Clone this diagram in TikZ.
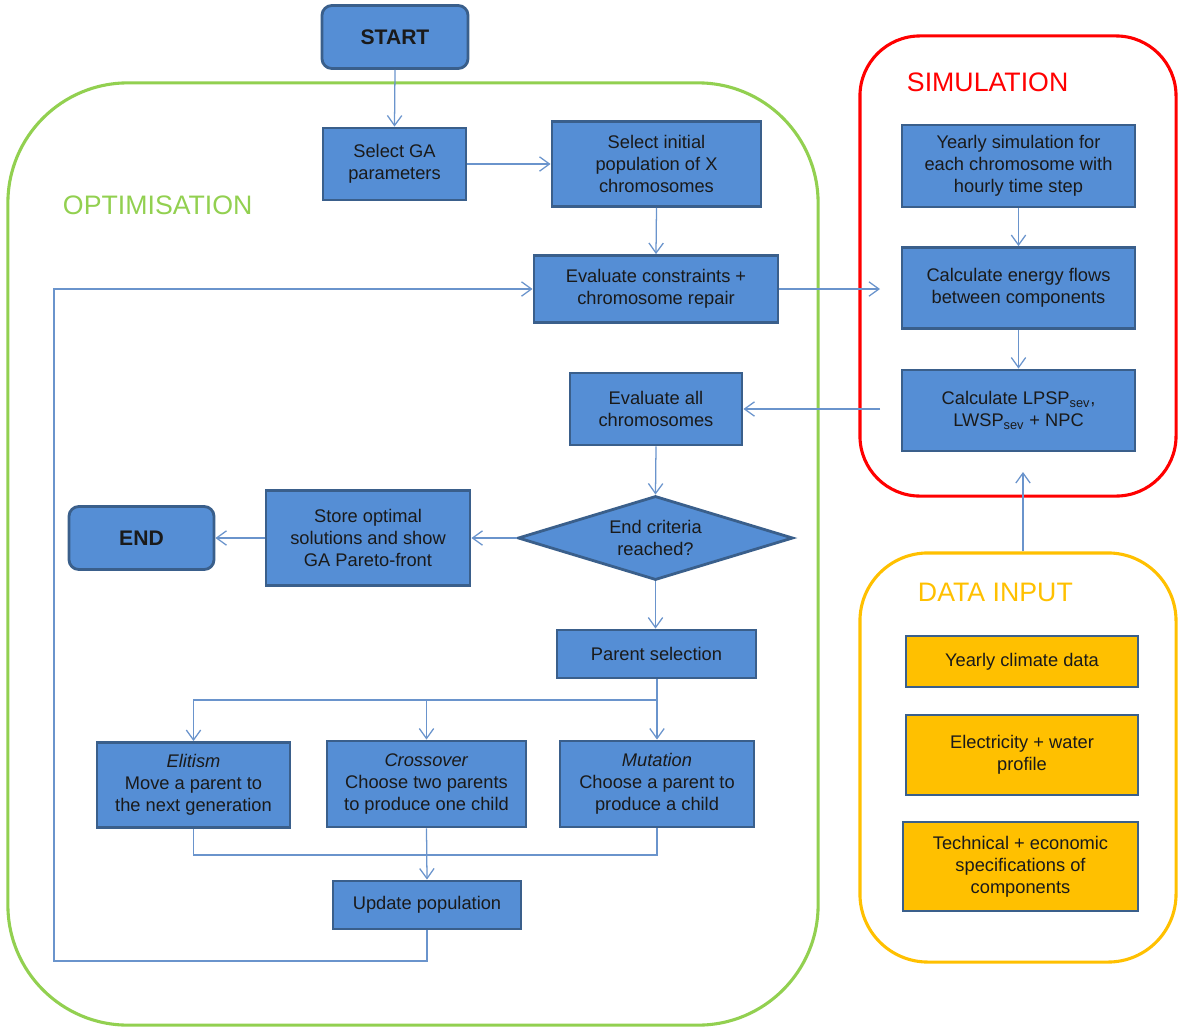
\documentclass[tikz,border=0pt]{standalone}
\usepackage{fontspec}
\setmainfont{Liberation Sans}
\usetikzlibrary{arrows.meta,shapes.geometric}
\definecolor{boxfill}  {HTML}{558ED5}
\definecolor{boxline}  {HTML}{3A5F8B}
\definecolor{flowline} {HTML}{6A94CC}
\definecolor{optgreen} {HTML}{92D050}
\definecolor{simred}   {HTML}{FF0000}
\definecolor{datagold} {HTML}{FFC000}
\definecolor{ink}      {HTML}{1A1A1A}

\begin{document}
\begin{tikzpicture}[x=0.025cm,y=-0.025cm,
    procbox/.style={draw=boxline,line width=2pt,fill=boxfill,text=ink,
                    align=center,inner sep=2pt,
                    font=\fontsize{13}{15.5}\selectfont},
    termbox/.style={procbox,rounded corners=7pt,
                    font=\fontsize{15}{18}\selectfont\bfseries},
    inbox/.style={procbox,fill=datagold},
    group/.style={line width=2.2pt,fill=none},
    grouptitle/.style={anchor=west,font=\fontsize{19}{23}\selectfont},
    link/.style={draw=flowline,line width=0.9pt},
    flow/.style={link,-{Straight Barb[length=2.5mm,width=3.6mm]}}]
  \useasboundingbox (0,0) rectangle (1180,1028);

  % group frames
  \node[group,draw=optgreen,rounded corners=3cm,
        minimum width=20.25cm,minimum height=23.55cm] (optbox) at (413,554) {};
  \node[group,draw=simred,rounded corners=1.5cm,
        minimum width=7.9cm,minimum height=11.5cm] (simbox) at (1018,266) {};
  \node[group,draw=datagold,rounded corners=1.7cm,
        minimum width=7.9cm,minimum height=10.225cm] (databox) at (1018,757.5) {};

  \node[grouptitle,text=optgreen] (opttitle) at (58,205) {OPTIMISATION};
  \node[grouptitle,text=simred] (simtitle) at (902,82) {SIMULATION};
  \node[grouptitle,text=datagold] (datatitle) at (913,592) {DATA INPUT};

  % optimisation loop
  \node[termbox,minimum width=3.65cm,minimum height=1.575cm] (start) at (395,37) {START};
  \node[procbox,minimum width=3.575cm,minimum height=1.8cm] (gaparam) at (394.5,164)
    {Select GA\\parameters};
  \node[procbox,minimum width=5.225cm,minimum height=2.125cm] (initpop) at (656.5,164)
    {Select initial\\population of X\\chromosomes};
  \node[procbox,minimum width=6.1cm,minimum height=1.675cm] (evalcons) at (656,289)
    {Evaluate constraints +\\chromosome repair};
  \node[procbox,minimum width=4.3cm,minimum height=1.8cm] (evalall) at (656,409)
    {Evaluate all\\chromosomes};
  \node[procbox,diamond,aspect=3.3,inner sep=0pt,
        minimum width=6.875cm,minimum height=2.1cm] (endcrit) at (655.5,538)
    {End criteria\\reached?};
  \node[procbox,minimum width=5.1cm,minimum height=2.375cm] (store) at (368,538)
    {Store optimal\\solutions and show\\GA Pareto-front};
  \node[termbox,minimum width=3.625cm,minimum height=1.575cm] (finish) at (141.5,538) {END};
  \node[procbox,minimum width=4.975cm,minimum height=1.2cm] (parsel) at (656.5,654)
    {Parent selection};
  \node[procbox,minimum width=4.825cm,minimum height=2.125cm] (elitism) at (193.5,785)
    {\textit{Elitism}\\Move a parent to\\the next generation};
  \node[procbox,minimum width=4.975cm,minimum height=2.15cm] (crossover) at (426.5,784)
    {\textit{Crossover}\\Choose two parents\\to produce one child};
  \node[procbox,minimum width=4.85cm,minimum height=2.15cm] (mutation) at (657,784)
    {\textit{Mutation}\\Choose a parent to\\produce a child};
  \node[procbox,minimum width=4.7cm,minimum height=1.2cm] (update) at (427,905)
    {Update population};

  % simulation
  \node[procbox,minimum width=5.825cm,minimum height=2.05cm] (yearsim) at (1018.5,166)
    {Yearly simulation for\\each chromosome with\\hourly time step};
  \node[procbox,minimum width=5.825cm,minimum height=2.025cm] (enflow) at (1018.5,288)
    {Calculate energy flows\\between components};
  \node[procbox,minimum width=5.825cm,minimum height=2.025cm] (lpsp) at (1018.5,410.5)
    {Calculate LPSP\textsubscript{sev},\\LWSP\textsubscript{sev} + NPC};

  % data input
  \node[inbox,minimum width=5.8cm,minimum height=1.275cm] (climate) at (1022,661.5)
    {Yearly climate data};
  \node[inbox,minimum width=5.8cm,minimum height=2cm] (profile) at (1022,755)
    {Electricity + water\\profile};
  \node[inbox,minimum width=5.875cm,minimum height=2.225cm] (techspec) at (1020.5,866.5)
    {Technical + economic\\specifications of\\components};

  \coordinate (simin) at (880,289);
  \coordinate (simout) at (880,409);
  \coordinate (simfeed) at (1023,472);
  \coordinate (split) at (657,700);
  \coordinate (join) at (426.5,855);
  \coordinate (loopcorner) at (54,961);

  \draw[flow] (start.south) -- (gaparam.north);
  \draw[flow] (gaparam.east) -- (initpop.west);
  \draw[flow] (initpop.south) -- (evalcons.north);
  \draw[flow] (evalcons.east) -- (simin);
  \draw[flow] (simout) -- (evalall.east);
  \draw[flow] (evalall.south) -- (endcrit.north);
  \draw[flow] (endcrit.west) -- (store.east);
  \draw[flow] (store.west) -- (finish.east);
  \draw[flow] (endcrit.south) -- (endcrit.south |- parsel.north);
  \draw[link] (parsel.south -| split) -- (split);
  \draw[flow] (split) -| (elitism.north);
  \draw[flow] (split -| crossover.north) -- (crossover.north);
  \draw[flow] (split) -- (mutation.north);
  \draw[link] (elitism.south) |- (join) -| (mutation.south);
  \draw[flow] (crossover.south) -- (update.north);
  \draw[flow] (update.south) |- (loopcorner) |- (evalcons.west);

  \draw[flow] (yearsim.south) -- (enflow.north);
  \draw[flow] (enflow.south) -- (lpsp.north);
  \draw[flow] (simfeed |- databox.north) -- (simfeed);
\end{tikzpicture}
\end{document}
